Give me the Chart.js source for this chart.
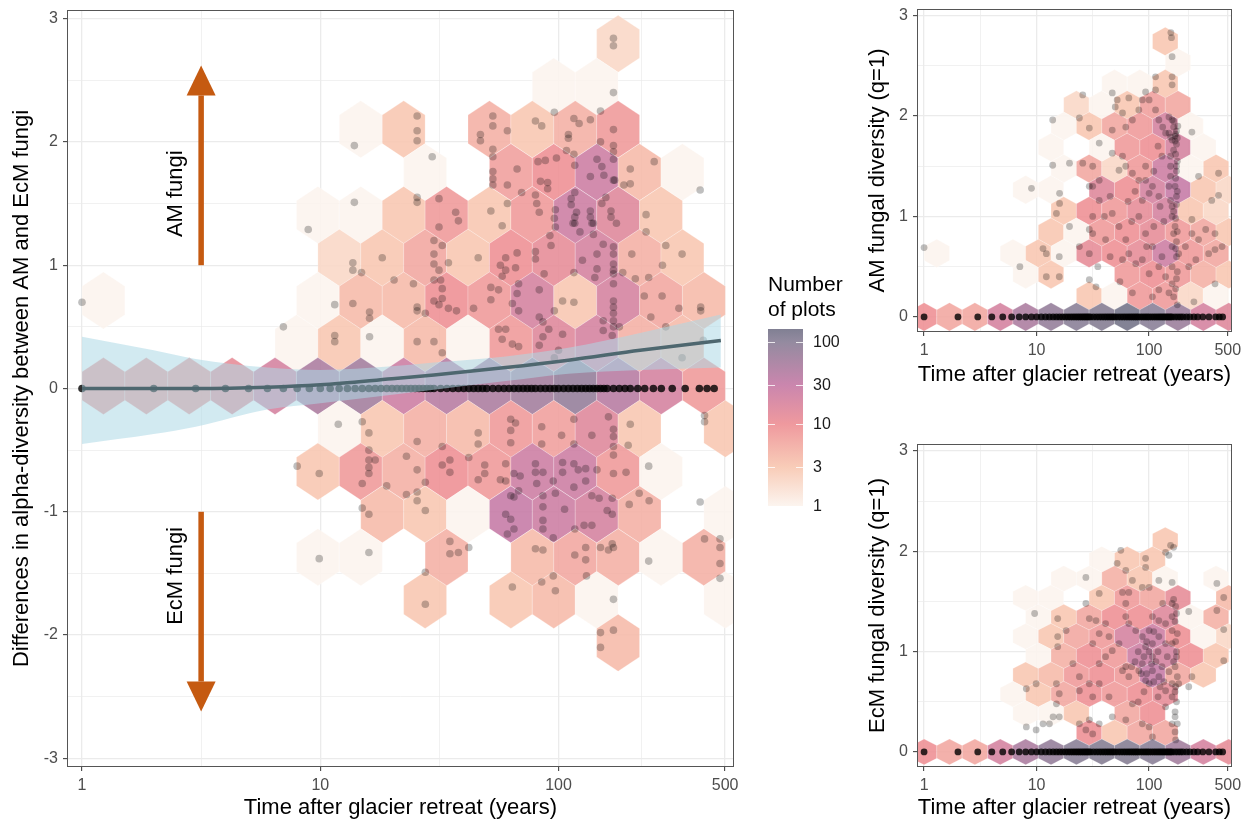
<!DOCTYPE html>
<html>
<head>
<meta charset="utf-8">
<script src="https://cdn.jsdelivr.net/npm/chart.js@4.4.0/dist/chart.umd.min.js"></script>
<style>
  body { margin: 0; background: #fff; width: 1250px; height: 827px; position: relative; overflow: hidden; }
  .panel { position: absolute; }
</style>
</head>
<body>
<div class="panel" style="left:0;top:0;width:860px;height:827px"><canvas id="main-chart"></canvas></div>
<div class="panel" style="left:860px;top:0;width:390px;height:400px"><canvas id="am-chart"></canvas></div>
<div class="panel" style="left:860px;top:430px;width:390px;height:397px"><canvas id="ecm-chart"></canvas></div>
<script>
// ---- data ----
const xTickValues = [1, 10, 100, 500];
const xTickLabels = ["1", "10", "100", "500"];
const xMinorValues = [3.162, 31.62, 223.6];
const yTicksMain = [-3, -2, -1, 0, 1, 2, 3];
const yMinorMain = [-2.5, -1.5, -0.5, 0.5, 1.5, 2.5];
const yTicksSide = [0, 1, 2, 3];
const yMinorSide = [0.5, 1.5, 2.5];
const legendTicks = [1, 3, 10, 30, 100];

// plot ages with a value of exactly 0
const zeroAges = [1, 2, 3, 4, 5, 6, 7, 8, 9, 10, 11, 12, 13, 14, 15, 16, 17, 18, 19, 20, 21, 22, 23, 24, 25,
  26, 27, 28, 29, 30, 32, 34, 36, 38, 40, 42, 44, 46, 48, 50, 53, 56, 59, 62, 65, 68, 71, 74, 77, 80, 84, 88,
  92, 96, 100, 105, 110, 115, 120, 125, 130, 135, 140, 145, 150, 155, 160, 170, 180, 190, 200, 215, 230,
  250, 270, 300, 340, 390, 420, 450];

// [age, difference] for the main panel
const mainPoints = [
  [1, 0.70], [170, 2.84], [170, 2.78], [170, 2.40], [96, 2.24], [150, 2.25],
  [25.5, 2.21], [25.5, 2.09], [25.5, 2.01], [13.9, 1.97], [29.5, 1.88],
  [53, 2.21], [53, 2.13], [47, 2.06], [47, 2.01], [61, 2.09], [80, 2.17], [85, 2.13],
  [116, 2.19], [122, 2.15], [136, 2.18], [110, 2.06], [110, 2.03], [108, 1.93], [116, 1.90], [117, 1.81],
  [170, 2.10], [150, 2.00], [170, 1.97], [170, 1.92], [170, 1.86], [152, 1.80], [145, 1.86], [155, 1.73], [170, 1.69],
  [252, 1.84], [200, 1.78], [200, 1.66], [393, 1.61],
  [53, 1.94], [53, 1.88], [53, 1.76], [53, 1.70], [53, 1.65], [67, 1.78], [61, 1.65],
  [82, 1.84], [88, 1.85], [98, 1.87], [84, 1.68], [90, 1.67], [90, 1.62], [136, 1.72], [172, 1.69], [188, 1.65],
  [13.9, 1.51], [8.9, 1.29], [25.5, 1.55], [25.5, 1.51], [31.5, 1.54], [37, 1.43], [38, 1.36], [31.5, 1.31],
  [52, 1.44], [58, 1.32], [61, 1.50], [70, 1.59], [80, 1.57], [81, 1.50], [83, 1.43], [96, 1.38], [97, 1.45],
  [117, 1.59], [113, 1.54], [113, 1.49], [119, 1.43], [117, 1.39], [117, 1.34], [136, 1.44], [136, 1.39], [140, 1.34],
  [158, 1.55], [152, 1.50], [166, 1.44], [166, 1.39], [175, 1.34], [233, 1.41],
  [7.0, 0.50], [13.7, 1.02], [13.7, 0.96], [14.9, 0.94], [18.2, 1.06], [20.4, 0.88], [24.6, 0.85],
  [11.5, 0.68], [13.7, 0.69], [16.1, 0.62], [16.1, 0.57], [11.5, 0.43], [11.5, 0.38], [16.1, 0.42],
  [25.5, 0.66], [25.5, 0.63], [27.6, 0.61], [30, 0.71], [31.5, 0.68], [34.5, 0.65], [37.3, 0.63],
  [30, 1.20], [32.5, 1.16], [30, 1.09], [30, 1.01], [31.5, 0.96], [30, 0.88], [32, 0.88], [32.5, 0.81], [32.5, 0.73],
  [34.5, 1.02], [46, 1.06], [25.5, 0.38], [30, 0.38], [32.5, 0.29],
  [44, 0.65], [52, 0.82], [52, 0.72], [56, 0.80], [57, 1.00], [60, 1.06], [60, 0.96], [58, 0.91],
  [67, 1.10], [66, 0.98], [68, 0.85], [67, 0.77], [64, 0.69], [68, 0.63],
  [80, 1.11], [80, 1.05], [93, 1.16], [92, 1.24], [97, 1.31], [87, 0.93], [83, 0.80],
  [56, 0.48], [60, 0.48], [58, 0.40], [64, 0.36], [68, 0.34],
  [83, 0.58], [86, 0.54], [91, 0.48], [104, 0.44], [86, 0.42], [83, 0.35], [100, 0.31], [96, 0.25],
  [104, 0.71], [116, 0.70], [96, 0.63], [116, 0.94], [126, 1.04], [145, 1.09], [145, 0.97], [142, 0.90],
  [115, 1.34], [123, 1.27], [138, 1.34], [140, 1.25], [154, 1.17],
  [170, 1.15], [170, 1.09], [170, 1.01], [170, 0.96], [170, 0.93], [170, 0.85], [170, 0.71], [170, 0.66],
  [170, 0.61], [170, 0.55], [170, 0.50], [168, 0.43], [154, 0.55], [154, 0.47], [180, 0.50],
  [186, 0.94], [203, 1.09], [210, 0.89], [239, 0.90], [273, 1.00], [282, 1.16], [330, 1.09], [233, 1.27],
  [229, 0.75], [272, 0.75], [320, 0.65], [244, 0.58], [282, 0.50], [395, 0.66], [395, 0.63], [330, 0.25], [405, 0.39],
  [11.9, -0.29], [15, -0.27], [16, -0.36], [16, -0.50], [8.0, -0.63], [9.9, -0.69],
  [16, -0.58], [16, -0.64], [17, -0.58], [16, -0.69], [15, -0.77], [19, -0.79], [15, -0.97], [16, -1.02],
  [25.5, -0.43], [23, -0.55], [25.5, -0.66], [27.6, -0.76], [23, -0.86], [25.5, -0.84], [25.5, -0.91], [27.6, -0.99],
  [32.5, -0.47], [35, -0.58], [35, -0.68], [32.5, -0.62], [42, -0.56],
  [46, -0.36], [46, -0.45], [49, -0.62], [49, -0.69], [46, -0.74], [57, -0.74], [60, -0.75],
  [63, -0.25], [63, -0.34], [63, -0.44], [66, -0.28], [60, -0.61], [65, -0.69], [69, -0.71], [63, -0.87],
  [65, -0.88], [60, -1.02], [63, -1.06], [65, -1.14], [61, -1.18],
  [68, -0.83], [80, -0.61], [80, -0.68], [86, -0.68], [81, -0.77], [95, -0.75], [86, -0.87], [97, -0.85],
  [86, -0.96], [106, -0.98], [86, -1.07], [86, -1.14], [95, -1.21], [117, -1.14], [128, -1.11], [138, -1.11],
  [85, -0.31], [85, -0.45], [103, -0.38], [116, -0.45], [116, -0.25], [138, -0.38], [162, -0.23],
  [104, -0.60], [116, -0.61], [121, -0.66], [130, -0.65], [130, -0.75], [116, -0.80], [104, -0.68],
  [138, -0.87], [148, -0.89], [145, -0.66], [168, -0.89], [168, -1.02], [160, -0.99],
  [170, -0.33], [170, -0.39], [170, -0.47], [170, -0.54], [170, -0.69], [192, -0.68], [196, -0.46],
  [218, -0.85], [240, -0.91], [198, -0.94],
  [80, -1.30], [86, -1.31], [95, -1.52], [117, -1.35], [130, -1.29], [130, -1.39], [150, -1.29], [168, -1.26],
  [162, -1.31], [170, -1.29], [131, -1.52], [64, -1.61], [85, -1.57], [97, -1.64], [170, -1.71],
  [150, -1.98], [170, -1.96], [150, -2.10],
  [35, -1.24], [38, -1.33], [35, -1.34], [42, -1.29], [27.6, -1.49], [27.6, -1.75], [9.9, -1.38], [16, -1.33],
  [239, -0.63], [239, -1.40], [393, -0.92], [476, -1.22], [476, -1.29], [410, -1.22], [476, -1.42], [476, -1.54],
  [410, -0.22], [410, -0.27], [200, -0.29],
];

// [age, diversity] for the AM panel
const amPoints = [
  [1, 0.69], [156, 2.83], [158, 2.78], [160, 2.59], [114, 2.39], [160, 2.39], [160, 2.31],
  [25.7, 2.21], [47, 2.23], [52, 2.16], [66, 2.18], [93, 2.24], [114, 2.26],
  [13.9, 1.96], [24, 1.98], [29.4, 1.88], [36, 1.73], [47, 1.86],
  [50, 2.09], [58, 2.03], [62, 1.89], [71, 1.96], [81, 2.06], [87, 2.16], [100, 2.16], [114, 2.06],
  [122, 1.96], [132, 1.89], [140, 1.83], [150, 1.99], [160, 1.96], [165, 1.89], [150, 1.83], [155, 1.79],
  [160, 1.76], [165, 1.66], [240, 1.84],
  [13.9, 1.51], [19.6, 1.53], [25.7, 1.53], [31.5, 1.50], [36, 1.36], [29.4, 1.30],
  [47, 1.63], [58, 1.60], [54, 1.46], [62, 1.50], [71, 1.43], [81, 1.36],
  [93, 1.50], [93, 1.36], [107, 1.30], [87, 1.16], [100, 1.23], [122, 1.20], [150, 1.30],
  [155, 1.60], [155, 1.50], [155, 1.40], [155, 1.16], [160, 1.10], [160, 1.00],
  [275, 1.40], [414, 1.43], [414, 1.21], [360, 1.16], [240, 0.97], [318, 0.87], [385, 0.83], [240, 0.83], [275, 0.77],
  [9, 1.28], [16, 1.23], [16, 1.13], [15, 1.03], [19.6, 0.90],
  [31.5, 1.30], [36, 1.16], [31.5, 1.00], [29.4, 0.87], [24, 0.70], [29.4, 0.63], [31.5, 0.83], [41, 0.77],
  [47, 1.03], [54, 0.90], [62, 0.77], [66, 0.63], [58, 0.57], [76, 0.53],
  [81, 1.00], [93, 0.83], [107, 0.70], [87, 0.57], [100, 0.43], [122, 0.50], [140, 0.40],
  [160, 0.70], [165, 0.83], [160, 0.50], [160, 0.33], [150, 0.24], [165, 0.20],
  [183, 0.63], [210, 0.70], [225, 0.50], [260, 0.57], [338, 0.63], [385, 0.67], [445, 0.70],
  [7.1, 0.50], [11.4, 0.68], [12.2, 0.63], [15.9, 0.60], [12.2, 0.40], [15.9, 0.40],
  [29.4, 0.37], [33.7, 0.30], [71, 0.24], [107, 0.20], [122, 0.27], [250, 0.15], [385, 0.33],
  [170, 1.80], [170, 1.75], [175, 1.50], [170, 1.30], [175, 1.20], [165, 1.05], [170, 0.90], [175, 0.60],
  [120, 1.70], [130, 1.60], [110, 1.45], [125, 1.10], [135, 0.95], [110, 0.90], [95, 0.70], [130, 0.60],
  [75, 1.25], [65, 1.15], [70, 0.95], [45, 1.20], [40, 1.00], [45, 0.60], [35, 0.50], [55, 0.35],
  [175, 1.85], [172, 1.82], [178, 1.78], [175, 1.72], [172, 1.62], [178, 1.55], [175, 1.45], [172, 1.38],
  [178, 1.25], [175, 1.12], [172, 0.98], [178, 0.85], [175, 0.75], [172, 0.68], [178, 0.45], [175, 0.38],
  [172, 0.28], [178, 0.12], [165, 1.95], [180, 1.90],
];

// [age, diversity] for the EcM panel
const ecmPoints = [
  [155, 2.06], [165, 2.04], [140, 1.99], [150, 1.96], [93, 1.93], [93, 1.84], [52, 1.88], [56, 2.01], [160, 1.69],
  [87, 1.64], [100, 1.64], [27.4, 1.74], [36, 1.58], [27.4, 1.48], [58, 1.59], [66, 1.59],
  [225, 1.40], [400, 1.68], [460, 1.54], [400, 1.41], [460, 1.22], [460, 0.91],
  [9.6, 1.38], [15.4, 1.33], [18.3, 1.21], [15.4, 1.15], [15.4, 1.05],
  [29.4, 1.33], [33.7, 1.31], [41, 1.28], [36, 1.18], [44, 1.15], [54, 1.08],
  [62, 1.48], [62, 1.35], [66, 1.28], [76, 1.21], [87, 1.15], [93, 1.05], [107, 1.08],
  [107, 1.35], [122, 1.31], [140, 1.28], [122, 1.15], [140, 1.08], [160, 1.48], [160, 1.35], [160, 1.21], [160, 1.08],
  [62, 0.85], [58, 0.81], [66, 0.75], [81, 0.81], [100, 0.68], [122, 0.75], [140, 0.61], [160, 0.68], [160, 0.55],
  [8.1, 0.63], [9.9, 0.68], [15, 0.68], [15.9, 0.58], [15, 0.48], [15.9, 0.35], [13, 0.28],
  [21, 0.88], [24, 0.75], [29.4, 0.68], [24, 0.61], [31.5, 0.55], [36, 0.68], [44, 0.55],
  [24, 0.28], [29.4, 0.32], [27.4, 0.22], [31.5, 0.18], [36, 0.28], [47, 0.35], [62, 0.32],
  [71, 0.48], [87, 0.28], [100, 0.25], [107, 0.15], [140, 0.45], [160, 0.28], [183, 0.68], [225, 0.65], [240, 0.75],
  [9.9, 0.22], [8.1, 0.25], [11.4, 0.28], [14, 0.35], [122, 1.71], [132, 1.48], [62, 1.81], [71, 1.71],
  [100, 1.21], [107, 0.95], [87, 0.88], [93, 0.71], [107, 0.81], [47, 1.01], [41, 0.95], [36, 0.88], [31.5, 1.08],
  [70, 0.85], [75, 0.90], [80, 1.00], [90, 0.95], [95, 0.78], [110, 0.70], [115, 0.90], [120, 1.00], [130, 0.85],
  [135, 0.70], [145, 0.95], [150, 0.80], [165, 0.90], [170, 0.60], [170, 0.40], [170, 0.20], [175, 1.00],
  [120, 0.55], [90, 0.60], [80, 0.50],
  [172, 1.45], [175, 1.38], [170, 1.30], [178, 1.18], [172, 1.10], [175, 0.95], [170, 0.85], [178, 0.75],
  [172, 0.65], [175, 0.50], [170, 0.35], [178, 0.28], [172, 0.12], [165, 1.52], [95, 1.10], [100, 1.00],
  [105, 0.88], [85, 0.78], [110, 1.20], [125, 0.65],
];

// hex bins: [row, column (half-bin steps), number of plots]
const mainHexes = [
  [8, 25, 2], [7, 22, 1], [7, 24, 1],
  [6, 13, 1], [6, 15, 3], [6, 19, 5], [6, 21, 3], [6, 23, 5], [6, 25, 8],
  [5, 16, 1], [5, 20, 7], [5, 22, 10], [5, 24, 25], [5, 26, 4], [5, 28, 1],
  [4, 11, 1], [4, 13, 1], [4, 15, 3], [4, 17, 8], [4, 19, 3], [4, 21, 8], [4, 23, 25], [4, 25, 15], [4, 27, 3],
  [3, 12, 2], [3, 14, 3], [3, 16, 6], [3, 18, 3], [3, 20, 10], [3, 22, 12], [3, 24, 20], [3, 26, 5], [3, 28, 3],
  [2, 1, 1], [2, 11, 1], [2, 13, 4], [2, 15, 4], [2, 17, 10], [2, 19, 8], [2, 21, 20], [2, 23, 3], [2, 25, 20],
  [2, 27, 6], [2, 29, 4],
  [1, 10, 1], [1, 12, 3], [1, 14, 1], [1, 16, 4], [1, 18, 1], [1, 20, 8], [1, 22, 15], [1, 24, 20], [1, 26, 5], [1, 28, 4],
  [0, 1, 8], [0, 3, 8], [0, 5, 8], [0, 7, 12], [0, 9, 20], [0, 11, 50], [0, 13, 60], [0, 15, 25], [0, 17, 40],
  [0, 19, 50], [0, 21, 60], [0, 23, 80], [0, 25, 40], [0, 27, 20], [0, 29, 8],
  [-1, 12, 1], [-1, 14, 3], [-1, 16, 5], [-1, 18, 4], [-1, 20, 8], [-1, 22, 7], [-1, 24, 15], [-1, 26, 3], [-1, 30, 3],
  [-2, 11, 3], [-2, 13, 8], [-2, 15, 5], [-2, 17, 10], [-2, 19, 8], [-2, 21, 25], [-2, 23, 25], [-2, 25, 8], [-2, 27, 1],
  [-3, 14, 4], [-3, 16, 3], [-3, 18, 1], [-3, 20, 30], [-3, 22, 25], [-3, 24, 20], [-3, 26, 5], [-3, 30, 1],
  [-4, 11, 1], [-4, 13, 1], [-4, 17, 5], [-4, 21, 4], [-4, 23, 6], [-4, 25, 5], [-4, 27, 1], [-4, 29, 5],
  [-5, 16, 3], [-5, 20, 3], [-5, 22, 4], [-5, 24, 1], [-5, 30, 1],
  [-6, 25, 4],
];

const amHexes = [
  [13, 19, 3], [12, 20, 1], [11, 15, 1], [11, 17, 1], [11, 19, 3],
  [10, 12, 2], [10, 14, 1], [10, 16, 3], [10, 18, 7], [10, 20, 6],
  [9, 11, 1], [9, 13, 3], [9, 15, 6], [9, 17, 8], [9, 19, 20], [9, 21, 1],
  [8, 10, 1], [8, 14, 1], [8, 16, 8], [8, 18, 10], [8, 20, 20], [8, 22, 1],
  [7, 11, 1], [7, 13, 6], [7, 15, 2], [7, 17, 8], [7, 19, 25], [7, 21, 1], [7, 23, 3],
  [6, 8, 1], [6, 10, 1], [6, 14, 15], [6, 16, 10], [6, 18, 20], [6, 20, 30], [6, 22, 3], [6, 24, 2],
  [5, 11, 3], [5, 13, 10], [5, 15, 8], [5, 17, 12], [5, 19, 20], [5, 21, 3], [5, 23, 2],
  [4, 10, 3], [4, 12, 1], [4, 14, 8], [4, 16, 10], [4, 18, 12], [4, 20, 8], [4, 22, 6], [4, 24, 3],
  [3, 1, 1], [3, 7, 1], [3, 9, 3], [3, 11, 1], [3, 13, 12], [3, 15, 10], [3, 17, 12], [3, 19, 25], [3, 21, 8], [3, 23, 6],
  [2, 8, 1], [2, 10, 3], [2, 16, 8], [2, 18, 10], [2, 20, 8], [2, 22, 5], [2, 24, 3],
  [1, 13, 3], [1, 15, 1], [1, 17, 8], [1, 19, 8], [1, 21, 2], [1, 23, 1],
  [0, 0, 10], [0, 2, 6], [0, 4, 6], [0, 6, 20], [0, 8, 50], [0, 10, 80], [0, 12, 100], [0, 14, 110],
  [0, 16, 144], [0, 18, 100], [0, 20, 70], [0, 22, 20], [0, 24, 15],
];

const ecmHexes = [
  [11, 19, 3], [10, 14, 1], [10, 16, 3], [10, 18, 3],
  [9, 11, 1], [9, 13, 1], [9, 15, 5], [9, 17, 3], [9, 19, 1], [9, 23, 1],
  [8, 8, 1], [8, 10, 1], [8, 14, 3], [8, 16, 8], [8, 18, 6], [8, 20, 12], [8, 24, 4],
  [7, 9, 1], [7, 11, 3], [7, 13, 6], [7, 15, 10], [7, 17, 10], [7, 19, 15], [7, 21, 1], [7, 23, 5],
  [6, 8, 1], [6, 10, 3], [6, 12, 6], [6, 14, 8], [6, 16, 20], [6, 18, 25], [6, 20, 10], [6, 22, 1], [6, 24, 2],
  [5, 9, 1], [5, 11, 5], [5, 13, 10], [5, 15, 8], [5, 17, 25], [5, 19, 20], [5, 21, 10], [5, 23, 3],
  [4, 8, 3], [4, 10, 4], [4, 12, 8], [4, 14, 10], [4, 16, 8], [4, 18, 30], [4, 20, 6], [4, 22, 3],
  [3, 7, 1], [3, 9, 3], [3, 11, 6], [3, 13, 10], [3, 15, 8], [3, 17, 10], [3, 19, 12],
  [2, 8, 1], [2, 10, 1], [2, 12, 3], [2, 16, 6], [2, 18, 10],
  [1, 13, 10], [1, 15, 3], [1, 17, 6], [1, 19, 6],
  [0, 0, 10], [0, 2, 6], [0, 4, 6], [0, 6, 20], [0, 8, 50], [0, 10, 80], [0, 12, 100], [0, 14, 110],
  [0, 16, 110], [0, 18, 100], [0, 20, 60], [0, 22, 20], [0, 24, 12],
];

// loess-type fit for the main panel
const fitAges = [1, 2, 3, 6, 10, 20, 30, 60, 110, 220, 480];
const fitMean = [0.00, 0.00, 0.00, 0.01, 0.03, 0.08, 0.11, 0.17, 0.23, 0.31, 0.39];
const fitLower = [-0.45, -0.37, -0.31, -0.17, -0.12, -0.05, -0.01, 0.06, 0.12, 0.15, 0.17];
const fitUpper = [0.42, 0.31, 0.24, 0.17, 0.15, 0.18, 0.21, 0.26, 0.33, 0.45, 0.60];

// arrows and their labels (data units)
const arrowAge = 3.162;
const amArrow = [1, 2.62];
const ecmArrow = [-1, -2.62];
const arrowLabelAge = 2.47;
const arrowLabels = [["AM fungi", 1.58], ["EcM fungi", -1.52]];

// ---- styling ----
const FONT = '"Liberation Sans", Arial, Helvetica, sans-serif';
const X_MIN = 0.865;
const X_MAX = 545;
const legendStops = [1, 3, 10, 30, 100, 144];
const fillPalette = ["#fcf4ee", "#f8c8b2", "#ee9196", "#c67ca7", "#8b8198", "#76758a"];
const xTitle = "Time after glacier retreat (years)";

const rgb = (hex) => [1, 3, 5].map((i) => parseInt(hex.slice(i, i + 2), 16));

const countColor = (n, alpha) => {
  const t = Math.log10(n);
  const s = legendStops.map((v) => Math.log10(v));
  let i = 1;
  while (i < s.length - 1 && t > s[i]) i++;
  const f = Math.min(1, Math.max(0, (t - s[i - 1]) / (s[i] - s[i - 1])));
  const a = rgb(fillPalette[i - 1]);
  const b = rgb(fillPalette[i]);
  const c = a.map((v, k) => Math.round(v + (b[k] - v) * f));
  return `rgba(${c[0]},${c[1]},${c[2]},${alpha})`;
};

const hexLayer = (hexes, grid) => ({
  id: "hexLayer",
  beforeDatasetsDraw(chart) {
    const { ctx, chartArea: a, scales: { x, y } } = chart;
    ctx.save();
    ctx.beginPath();
    ctx.rect(a.left, a.top, a.right - a.left, a.bottom - a.top);
    ctx.clip();
    hexes.forEach(([row, col, n]) => {
      const lx = col * grid.dx;
      const cx = x.getPixelForValue(Math.pow(10, lx));
      const hw = x.getPixelForValue(Math.pow(10, lx + grid.dx)) - cx;
      const yv = grid.y0 + row * grid.dy;
      const cy = y.getPixelForValue(yv);
      const r = y.getPixelForValue(yv - grid.r) - cy;
      ctx.beginPath();
      ctx.moveTo(cx, cy - r);
      ctx.lineTo(cx + hw, cy - r / 2);
      ctx.lineTo(cx + hw, cy + r / 2);
      ctx.lineTo(cx, cy + r);
      ctx.lineTo(cx - hw, cy + r / 2);
      ctx.lineTo(cx - hw, cy - r / 2);
      ctx.closePath();
      ctx.fillStyle = countColor(n, 0.9);
      ctx.fill();
      ctx.strokeStyle = "rgba(255,255,255,0.35)";
      ctx.lineWidth = 0.6;
      ctx.stroke();
    });
    ctx.restore();
  },
});

const panelBorder = {
  id: "panelBorder",
  afterDraw(chart) {
    const { ctx, chartArea: a } = chart;
    ctx.save();
    ctx.strokeStyle = "#555555";
    ctx.lineWidth = 1;
    ctx.strokeRect(a.left + 0.5, a.top + 0.5, a.right - a.left - 1, a.bottom - a.top - 1);
    ctx.restore();
  },
};

const arrowLayer = {
  id: "arrowLayer",
  afterDatasetsDraw(chart) {
    const { ctx, scales: { x, y } } = chart;
    const px = x.getPixelForValue(arrowAge);
    ctx.save();
    ctx.fillStyle = "#c55a11";
    [amArrow, ecmArrow].forEach(([from, tip]) => {
      const y0 = y.getPixelForValue(from);
      const y1 = y.getPixelForValue(tip);
      const dir = y1 < y0 ? 1 : -1;
      const head = 30;
      ctx.fillRect(px - 2.75, Math.min(y0, y1 + dir * head), 5.5, Math.abs(y0 - (y1 + dir * head)));
      ctx.beginPath();
      ctx.moveTo(px, y1);
      ctx.lineTo(px + 14.5, y1 + dir * head);
      ctx.lineTo(px - 14.5, y1 + dir * head);
      ctx.closePath();
      ctx.fill();
    });
    ctx.fillStyle = "#000";
    ctx.font = `22px ${FONT}`;
    ctx.textAlign = "center";
    ctx.textBaseline = "middle";
    arrowLabels.forEach(([text, val]) => {
      ctx.save();
      ctx.translate(x.getPixelForValue(arrowLabelAge), y.getPixelForValue(val));
      ctx.rotate(-Math.PI / 2);
      ctx.fillText(text, 0, 0);
      ctx.restore();
    });
    ctx.restore();
  },
};

const fillLegend = {
  id: "fillLegend",
  afterDraw(chart) {
    const { ctx } = chart;
    const left = 768, width = 35, top = 329, bottom = 506;
    const maxLog = Math.log10(legendStops[legendStops.length - 1]);
    const pos = (n) => bottom - (Math.log10(n) / maxLog) * (bottom - top);
    ctx.save();
    ctx.fillStyle = "#000";
    ctx.font = `21px ${FONT}`;
    ctx.textAlign = "left";
    ctx.textBaseline = "middle";
    ctx.fillText("Number", left, 285);
    ctx.fillText("of plots", left, 310);
    const grad = ctx.createLinearGradient(0, bottom, 0, top);
    legendStops.forEach((n, i) => grad.addColorStop(Math.log10(n) / maxLog, fillPalette[i]));
    ctx.globalAlpha = 0.92;
    ctx.fillStyle = grad;
    ctx.fillRect(left, top, width, bottom - top);
    ctx.globalAlpha = 1;
    ctx.strokeStyle = "rgba(255,255,255,0.8)";
    ctx.lineWidth = 1;
    ctx.font = `16px ${FONT}`;
    ctx.fillStyle = "#1a1a1a";
    legendTicks.forEach((n) => {
      const yy = Math.round(pos(n)) + 0.5;
      ctx.beginPath();
      ctx.moveTo(left, yy); ctx.lineTo(left + 7, yy);
      ctx.moveTo(left + width - 7, yy); ctx.lineTo(left + width, yy);
      ctx.stroke();
      ctx.fillText(String(n), left + width + 10, yy);
    });
    ctx.restore();
  },
};

const gridFor = (majors) => ({
  color: "#ebebeb",
  lineWidth: (c) => (c.tick && majors.includes(c.tick.value) ? 1.3 : 0.7),
  tickLength: 4,
  tickWidth: 1,
  tickColor: (c) => (c.tick && majors.includes(c.tick.value) ? "#333333" : "rgba(0,0,0,0)"),
});

const makeScales = (o) => ({
  x: {
    type: "logarithmic",
    min: X_MIN,
    max: X_MAX,
    afterBuildTicks: (s) => {
      s.ticks = [...xTickValues, ...xMinorValues].sort((p, q) => p - q).map((v) => ({ value: v }));
    },
    afterFit: (s) => {
      s.height = o.xHeight;
      s.paddingLeft = 0;
      s.paddingRight = 0;
    },
    ticks: {
      autoSkip: false,
      maxRotation: 0,
      padding: 5,
      color: "#4d4d4d",
      font: { family: FONT, size: 16 },
      callback: (v) => {
        const i = xTickValues.indexOf(v);
        return i < 0 ? "" : xTickLabels[i];
      },
    },
    grid: gridFor(xTickValues),
    border: { display: false },
    title: {
      display: true,
      text: xTitle,
      color: "#000",
      font: { family: FONT, size: 22 },
      padding: { top: 0, bottom: o.xTitlePad },
    },
  },
  y: {
    type: "linear",
    min: o.yMin,
    max: o.yMax,
    afterBuildTicks: (s) => {
      s.ticks = [...o.yTicks, ...o.yMinor].sort((p, q) => p - q).map((v) => ({ value: v }));
    },
    afterFit: (s) => {
      s.width = o.yWidth;
      s.paddingTop = 0;
      s.paddingBottom = 0;
    },
    ticks: {
      padding: 5,
      color: "#4d4d4d",
      font: { family: FONT, size: 16 },
      callback: (v) => (o.yTicks.includes(v) ? String(v) : ""),
    },
    grid: gridFor(o.yTicks),
    border: { display: false },
    title: {
      display: true,
      text: o.yTitle,
      color: "#000",
      font: { family: FONT, size: 22 },
      padding: { top: o.yTitlePad, bottom: 0 },
    },
  },
});

const pointSet = (pairs, radius) => ({
  type: "scatter",
  data: pairs.map(([x, y]) => ({ x, y })),
  backgroundColor: "rgba(0,0,0,0.25)",
  borderWidth: 0,
  pointRadius: radius,
  order: 4,
});

const zeroSet = (radius) => ({
  type: "scatter",
  data: zeroAges.map((x) => ({ x, y: 0 })),
  backgroundColor: "rgba(0,0,0,0.8)",
  borderWidth: 0,
  pointRadius: radius,
  order: 3,
});

const baseOptions = (o) => ({
  responsive: true,
  maintainAspectRatio: false,
  animation: false,
  events: [],
  layout: { padding: { left: 0, right: o.padRight, top: o.padTop, bottom: 0 } },
  scales: makeScales(o),
  plugins: { legend: { display: false }, tooltip: { enabled: false } },
});

// ---- main panel ----
new Chart(document.getElementById("main-chart"), {
  data: {
    datasets: [
      pointSet(mainPoints, 3.8),
      zeroSet(3.8),
      {
        type: "line",
        data: fitAges.map((x, i) => ({ x, y: fitLower[i] })),
        borderWidth: 0,
        pointRadius: 0,
        fill: false,
        tension: 0.4,
        cubicInterpolationMode: "monotone",
        order: 2,
      },
      {
        type: "line",
        data: fitAges.map((x, i) => ({ x, y: fitUpper[i] })),
        borderWidth: 0,
        pointRadius: 0,
        fill: "-1",
        backgroundColor: "rgba(173,216,230,0.55)",
        tension: 0.4,
        cubicInterpolationMode: "monotone",
        order: 2,
      },
      {
        type: "line",
        data: fitAges.map((x, i) => ({ x, y: fitMean[i] })),
        borderColor: "#4e676f",
        borderWidth: 3.5,
        pointRadius: 0,
        fill: false,
        tension: 0.4,
        cubicInterpolationMode: "monotone",
        order: 1,
      },
    ],
  },
  options: baseOptions({
    xHeight: 60, xTitlePad: 6, yWidth: 67, yTitlePad: 9,
    yMin: -3.07, yMax: 3.07, yTicks: yTicksMain, yMinor: yMinorMain,
    yTitle: "Differences in alpha-diversity between AM and EcM fungi",
    padRight: 126, padTop: 10,
  }),
  plugins: [hexLayer(mainHexes, { dx: 0.09, y0: 0.02, dy: 0.347, r: 0.231 }), arrowLayer, panelBorder, fillLegend],
});

// ---- AM panel ----
new Chart(document.getElementById("am-chart"), {
  data: { datasets: [pointSet(amPoints, 3.4), zeroSet(3.4)] },
  options: baseOptions({
    xHeight: 68, xTitlePad: 12, yWidth: 57, yTitlePad: 5,
    yMin: -0.15, yMax: 3.065, yTicks: yTicksSide, yMinor: yMinorSide,
    yTitle: "AM fungal diversity (q=1)",
    padRight: 18, padTop: 9,
  }),
  plugins: [hexLayer(amHexes, { dx: 0.1128, y0: 0, dy: 0.211, r: 0.141 }), panelBorder],
});

// ---- EcM panel ----
new Chart(document.getElementById("ecm-chart"), {
  data: { datasets: [pointSet(ecmPoints, 3.4), zeroSet(3.4)] },
  options: baseOptions({
    xHeight: 60, xTitlePad: 6, yWidth: 57, yTitlePad: 5,
    yMin: -0.15, yMax: 3.07, yTicks: yTicksSide, yMinor: yMinorSide,
    yTitle: "EcM fungal diversity (q=1)",
    padRight: 18, padTop: 14,
  }),
  plugins: [hexLayer(ecmHexes, { dx: 0.1128, y0: 0, dy: 0.192, r: 0.128 }), panelBorder],
});
</script>
</body>
</html>
